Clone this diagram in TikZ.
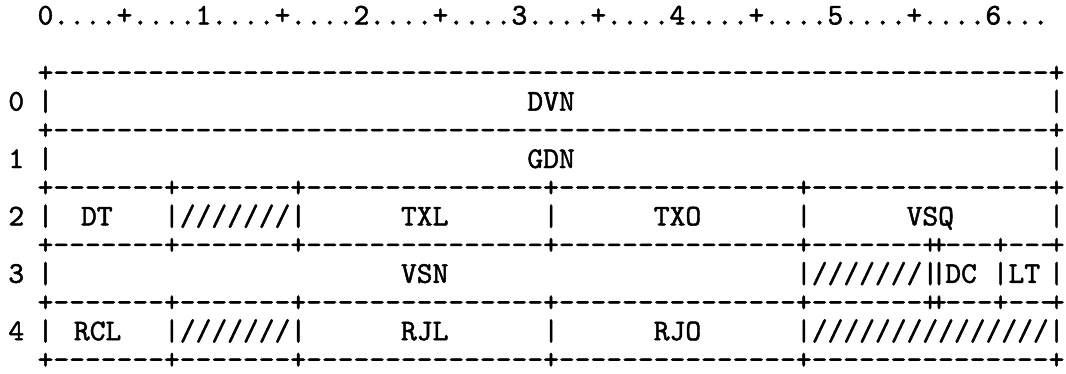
\documentclass[tikz,border=0pt]{standalone}
\usepackage{fontspec}
\newfontfamily\tw{lmmono10-regular.otf}[FakeBold=1.5]
\newcommand\dsh[1]{\foreach\k in {1,...,#1}{-{}}}
\newcommand\sls[1]{\foreach\k in {1,...,#1}{/{}}}
\tikzset{tt/.style={font=\tw\fontsize{30.09}{30}\selectfont, anchor=base west, inner sep=0pt, outer sep=0pt, text=black}}
% \txt{name}{column}{line}{text}
\newcommand\txt[5][]{\node[tt,#1] (#2) at ({45.5+15.8*(#3)-7.9},{16+28.7*(#4)+8.5}) {#5};}
\begin{document}
\begin{tikzpicture}[x=1pt,y=-1pt]
\useasboundingbox[fill=white] (0,0) rectangle (1066,373);
% ruler
\txt{ruler}{0}{0}{0....+....1....+....2....+....3....+....4....+....5....+....6...}
% borders
\txt{btop}{0}{2}{+\dsh{63}+}
\txt{b01}{0}{4}{+\dsh{63}+}
\txt{b12}{0}{6}{+\dsh{7}+\dsh{7}+\dsh{15}+\dsh{15}+\dsh{15}+}
\txt{b23}{0}{8}{+\dsh{7}+\dsh{7}+\dsh{15}+\dsh{15}+\dsh{7}+}
\txt{b23a}{56.55}{8}{+}
\txt{b23b}{57.45}{8}{\dsh{3}+\dsh{3}}
\txt{b23c}{64}{8}{+}
\txt{b34}{0}{10}{+\dsh{7}+\dsh{7}+\dsh{15}+\dsh{15}+\dsh{7}+}
\txt{b34a}{56.55}{10}{+}
\txt{b34b}{57.45}{10}{\dsh{3}+\dsh{3}}
\txt{b34c}{64}{10}{+}
\txt[text depth=0pt]{bbot}{0}{12}{+\dsh{7}+\dsh{7}+\dsh{15}+\dsh{15}+\dsh{15}+}
% row 0
\txt{lab0}{-1.85}{3}{0}
\txt{l0}{0}{3}{|}
\txt{dvn}{31}{3}{DVN}
\txt{r0}{64}{3}{|}
% row 1
\txt{lab1}{-1.85}{5}{1}
\txt{l1}{0}{5}{|}
\txt{gdn}{31}{5}{GDN}
\txt{r1}{64}{5}{|}
% row 2
\txt{lab2}{-1.85}{7}{2}
\txt{l2}{0}{7}{|}
\txt{dt}{2.75}{7}{DT}
\txt{res2}{8}{7}{|\sls{7}|}
\txt{txl}{23}{7}{TXL}
\txt{s2a}{32}{7}{|}
\txt{txo}{39}{7}{TXO}
\txt{s2b}{48}{7}{|}
\txt{vsq}{55}{7}{VSQ}
\txt{r2}{64}{7}{|}
% row 3
\txt{lab3}{-1.85}{9}{3}
\txt{l3}{0}{9}{|}
\txt{vsn}{23}{9}{VSN}
\txt{res3}{48}{9}{|\sls{7}|}
\txt{s3a}{56.55}{9}{|}
\txt{dc}{57.45}{9}{DC}
\txt{s3b}{60.45}{9}{|}
\txt{lt}{61.45}{9}{LT}
\txt{r3}{64}{9}{|}
% row 4
\txt{lab4}{-1.85}{11}{4}
\txt{l4}{0}{11}{|}
\txt{rcl}{2.3}{11}{RCL}
\txt{res4}{8}{11}{|\sls{7}|}
\txt{rjl}{23}{11}{RJL}
\txt{s4a}{32}{11}{|}
\txt{rjo}{39}{11}{RJO}
\txt{res4b}{48}{11}{|\sls{15}|}
\end{tikzpicture}
\end{document}
